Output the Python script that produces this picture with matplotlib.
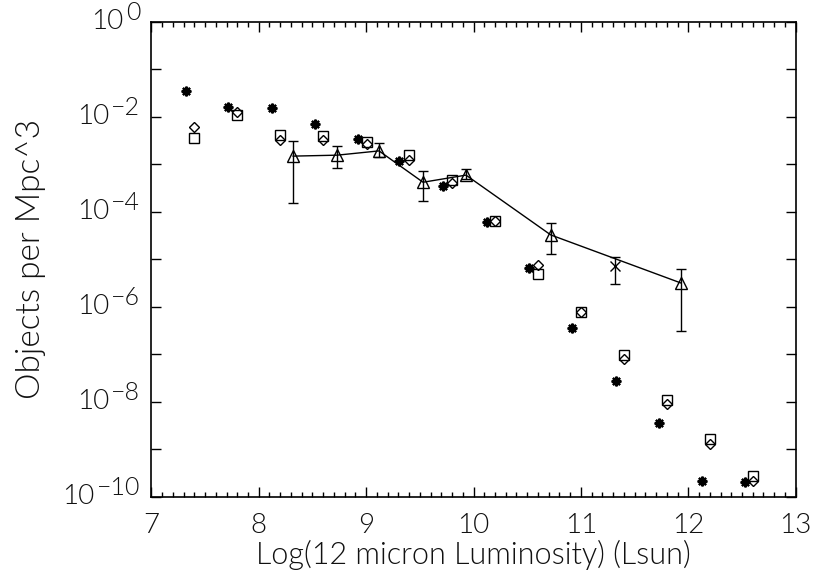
import numpy as np
import matplotlib
matplotlib.use("Agg")
import matplotlib.pyplot as plt
from matplotlib.ticker import FixedLocator, FuncFormatter, NullFormatter

# asterisk series
star_x = [7.32, 7.71, 8.12, 8.52, 8.92, 9.31, 9.72, 10.13, 10.52, 10.92, 11.33, 11.73, 12.13, 12.53]
star_logy = [-1.46, -1.80, -1.82, -2.15, -2.47, -2.93, -3.46, -4.22, -5.19, -6.45, -7.56, -8.45, -9.67, -9.69]

# square and diamond series share x positions
sd_x = [7.40, 7.80, 8.20, 8.60, 9.01, 9.40, 9.80, 10.20, 10.60, 11.00, 11.40, 11.80, 12.20, 12.60]
square_logy = [-2.45, -1.96, -2.38, -2.41, -2.53, -2.81, -3.33, -4.20, -5.31, -6.11, -7.02, -7.96, -8.79, -9.56]
diamond_logy = [-2.22, -1.90, -2.49, -2.49, -2.58, -2.91, -3.40, -4.20, -5.12, -6.11, -7.11, -8.05, -8.89, -9.67]

# triangle series with error bars, joined by a line
tri_x = [8.32, 8.73, 9.12, 9.53, 9.93, 10.72, 11.93]
tri_logy = [-2.83, -2.81, -2.72, -3.38, -3.23, -4.49, -5.50]
tri_hi = [-2.51, -2.62, -2.55, -3.14, -3.10, -4.24, -5.21]
tri_lo = [-3.82, -3.08, -2.85, -3.78, -3.31, -4.89, -6.51]

# single cross point with error bar
cross_x = [11.32]
cross_logy = [-5.14]
cross_hi = [-4.95]
cross_lo = [-5.52]

# labelled decades on the y axis
ylab_exp = [0, -2, -4, -6, -8, -10]


def to_lin(v):
    return 10.0 ** np.asarray(v)


def errs(mid, lo, hi):
    m = to_lin(mid)
    return [m - to_lin(lo), to_lin(hi) - m]


plt.rcParams['font.family'] = ['Lato', 'DejaVu Sans']
plt.rcParams['font.weight'] = 300
plt.rcParams['axes.labelweight'] = 300
TXT = '#111111'

fig = plt.figure(figsize=(8.15, 5.74), dpi=100)
ax = fig.add_axes([0.1857, 0.1347, 0.7906, 0.8275])
ax.set_yscale('log')

ax.plot(star_x, to_lin(star_logy), ls='none', marker=(8, 2, 0), ms=7, mew=1.6, color='black')
ax.plot(sd_x, to_lin(square_logy), ls='none', marker='s', ms=6.5, mfc='white', mec='black', mew=1.0)
ax.plot(sd_x, to_lin(diamond_logy), ls='none', marker='D', ms=5, mfc='none', mec='black', mew=1.0)

ax.errorbar(tri_x, to_lin(tri_logy), yerr=errs(tri_logy, tri_lo, tri_hi), color='black',
            lw=1.0, elinewidth=1.0, capsize=3.5, capthick=1.0,
            marker='^', ms=8, mfc='none', mec='black', mew=1.0)
ax.errorbar(cross_x, to_lin(cross_logy), yerr=errs(cross_logy, cross_lo, cross_hi), color='black',
            ls='none', elinewidth=1.0, capsize=3.5, capthick=1.0,
            marker='x', ms=7, mew=1.0)

ax.set_xlim(7, 13)
ax.set_ylim(1e-10, 1)

ax.set_xticks(range(7, 14))
ax.xaxis.set_minor_locator(FixedLocator(np.arange(7, 13.01, 0.1)))
ax.xaxis.set_major_formatter(FuncFormatter(lambda v, p: '%d' % v))
ax.yaxis.set_major_locator(FixedLocator([10.0 ** k for k in range(-10, 1)]))
ax.yaxis.set_minor_locator(FixedLocator([]))
ax.yaxis.set_major_formatter(NullFormatter())

ax.tick_params(which='both', direction='in', top=True, right=True, width=1.0, labelcolor=TXT)
ax.tick_params(axis='x', which='major', length=7, pad=12, labelsize=20)
ax.tick_params(axis='x', which='minor', length=3.5)
ax.tick_params(axis='y', which='major', length=7)
for s in ax.spines.values():
    s.set_linewidth(1.2)

# y labels drawn IDL style: "10" with a large raised exponent
fig.canvas.draw()
rend = fig.canvas.get_renderer()
ytr = ax.get_yaxis_transform()
for k in ylab_exp:
    ex = '%d' % k if k >= 0 else '\u2212%d' % -k
    t = ax.annotate(ex, xy=(0, 10.0 ** k), xycoords=ytr, xytext=(-8, 6.5),
                    textcoords='offset points', ha='right', va='center',
                    fontsize=18, color=TXT)
    w = t.get_window_extent(rend).width * 72.0 / fig.dpi
    ax.annotate('10', xy=(0, 10.0 ** k), xycoords=ytr, xytext=(-9.5 - w, 0),
                textcoords='offset points', ha='right', va='center',
                fontsize=20, color=TXT)

ax.set_xlabel('Log(12 micron Luminosity) (Lsun)', fontsize=22, labelpad=1, color=TXT)
ax.set_ylabel('Objects per Mpc^3', fontsize=24, labelpad=72, color=TXT)

fig.savefig('out.png', dpi=100)
